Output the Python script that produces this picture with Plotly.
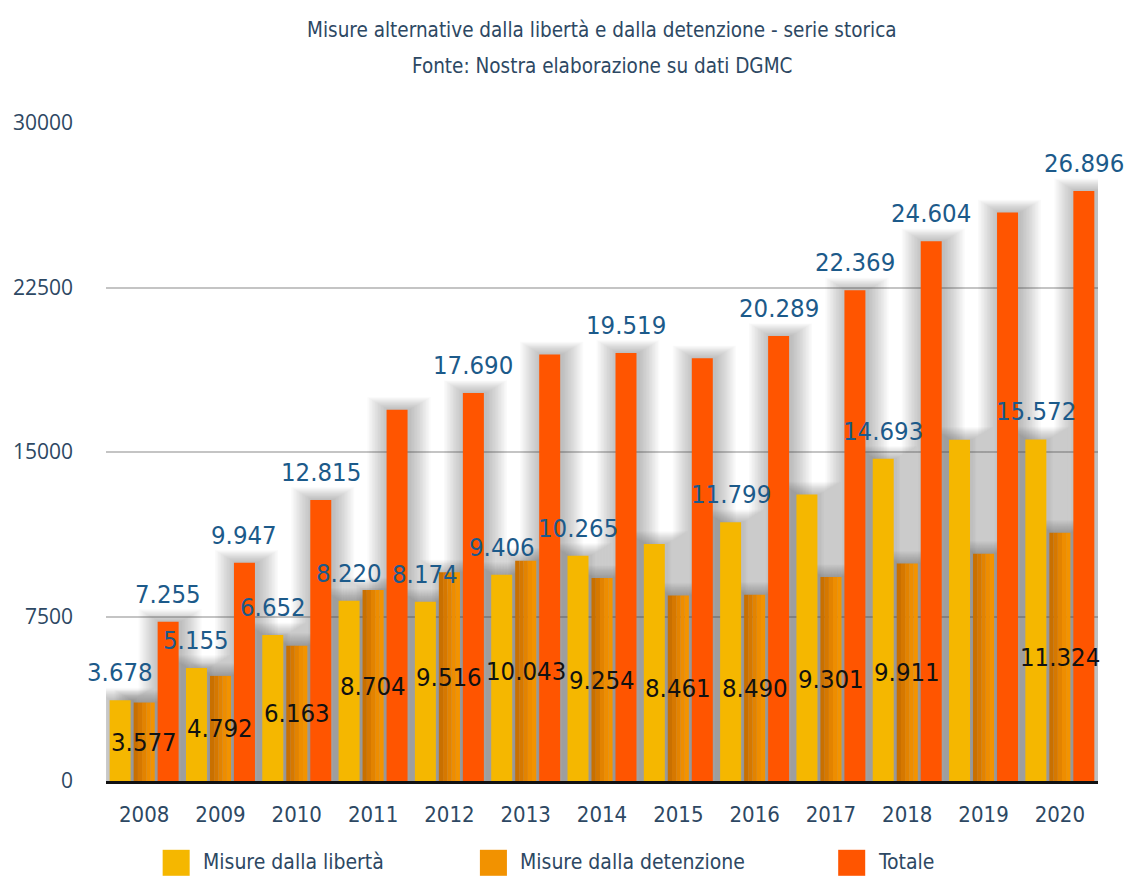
import plotly.graph_objects as go

# Serie storica 2008-2020
anni = [2008, 2009, 2010, 2011, 2012, 2013, 2014, 2015, 2016, 2017, 2018, 2019, 2020]
misure_liberta = [3678, 5155, 6652, 8220, 8174, 9406, 10265, 10810, 11799, 13068, 14693, 15560, 15572]
misure_detenzione = [3577, 4792, 6163, 8704, 9516, 10043, 9254, 8461, 8490, 9301, 9911, 10363, 11324]
totale = [7255, 9947, 12815, 16924, 17690, 19449, 19519, 19271, 20289, 22369, 24604, 25923, 26896]

# which bars carry a value label
etichetta_liberta = [1, 1, 1, 1, 1, 1, 1, 0, 1, 0, 1, 0, 1]
etichetta_detenzione = [1, 1, 1, 1, 1, 1, 1, 1, 1, 1, 1, 0, 1]
etichetta_totale = [1, 1, 1, 0, 1, 0, 1, 0, 1, 1, 1, 0, 1]

y_ticks = [0, 7500, 15000, 22500, 30000]
nomi_serie = ["Misure dalla libertà", "Misure dalla detenzione", "Totale"]

GIALLO = "#F5B700"
ROSSO = "#FF5500"
BLU = "#1C5A8A"
TESTO = "#2D4863"
NARROW = "Liberation Sans Narrow, DejaVu Sans Condensed, sans-serif"
WIDE = "Open Sans, Lato, sans-serif"

BAR_W = 0.275
OFFSETS = [-0.452, -0.1375, 0.177]   # left edge of each bar within a year slot
PX_PER_UNIT_X = 76.25                  # plot width / number of years
PX_PER_UNIT_Y = 658 / 30000


def it(v):
    return f"{v:,}".replace(",", ".")


fig = go.Figure()

serie = [misure_liberta, misure_detenzione, totale]

# soft drop shadow behind every bar
for k in range(1, 15):
    grow_x = 1.5 * k / PX_PER_UNIT_X
    grow_y = 0.9 * k / PX_PER_UNIT_Y
    for vals, off in zip(serie, OFFSETS):
        fig.add_trace(go.Bar(
            x=anni, y=[v + grow_y for v in vals],
            offset=off - grow_x + 2 / PX_PER_UNIT_X, width=BAR_W + 2 * grow_x,
            marker=dict(color="rgba(60,60,60,0.026)", line=dict(width=0)),
            showlegend=False, hoverinfo="skip",
        ))

# main bars
fig.add_trace(go.Bar(x=anni, y=misure_liberta, offset=OFFSETS[0], width=BAR_W,
                     marker=dict(color=GIALLO, line=dict(width=0)), name=nomi_serie[0], showlegend=False))

# the detention bars are shaded from a darker left edge to a brighter right edge
strisce = ["#C97000", "#D67800", "#E38300", "#EE8D00", "#F39300"]
sw = BAR_W / len(strisce)
for i, c in enumerate(strisce):
    fig.add_trace(go.Bar(x=anni, y=misure_detenzione, offset=OFFSETS[1] + i * sw, width=sw * 1.02,
                         marker=dict(color=c, line=dict(width=0)), name=nomi_serie[1], showlegend=False))

fig.add_trace(go.Bar(x=anni, y=totale, offset=OFFSETS[2], width=BAR_W,
                     marker=dict(color=ROSSO, line=dict(width=0)), name=nomi_serie[2], showlegend=False))

LBL = 25.5
annotations = []
for a, v, s in zip(anni, misure_liberta, etichetta_liberta):
    if s:
        annotations.append(dict(x=a + OFFSETS[0] + BAR_W / 2, y=v, text=it(v), showarrow=False,
                                yanchor="middle", yshift=28, font=dict(family=NARROW, size=LBL, color=BLU)))
for a, v, s in zip(anni, totale, etichetta_totale):
    if s:
        annotations.append(dict(x=a + OFFSETS[2] + BAR_W / 2, y=v, text=it(v), showarrow=False,
                                yanchor="middle", yshift=28, font=dict(family=NARROW, size=LBL, color=BLU)))
for a, v, s in zip(anni, misure_detenzione, etichetta_detenzione):
    if s:
        annotations.append(dict(x=a + OFFSETS[1] + BAR_W / 2, y=v / 2, text=it(v), showarrow=False,
                                yanchor="middle", font=dict(family=NARROW, size=LBL, color="#111111")))

# title
annotations.append(dict(xref="paper", yref="paper", x=0.5, y=(781.2 - 30) / 658, yanchor="middle",
                        text="Misure alternative dalla libertà e dalla detenzione - serie storica",
                        showarrow=False, font=dict(family=NARROW, size=20.5, color=TESTO)))
annotations.append(dict(xref="paper", yref="paper", x=0.5, y=(781.2 - 66) / 658, yanchor="middle",
                        text="Fonte: Nostra elaborazione su dati DGMC",
                        showarrow=False, font=dict(family=NARROW, size=20.5, color=TESTO)))

# legend drawn below the axis
shapes = []
leg_x = [163, 480, 838]
leg_col = [GIALLO, "#F29200", ROSSO]
for lx, col, nome in zip(leg_x, leg_col, nomi_serie):
    x0 = (lx - 106.4) / 991.2
    x1 = (lx + 27 - 106.4) / 991.2
    shapes.append(dict(type="rect", xref="paper", yref="paper", x0=x0, x1=x1,
                       y0=(781.2 - 876) / 658, y1=(781.2 - 850) / 658,
                       fillcolor=col, line=dict(width=0), layer="above"))
    annotations.append(dict(xref="paper", yref="paper", x=(lx + 38 - 106.4) / 991.2,
                            y=(781.2 - 862) / 658, xanchor="left", yanchor="middle",
                            text=nome, showarrow=False, font=dict(family=NARROW, size=21, color=TESTO)))

fig.update_layout(
    width=1126, height=876,
    margin=dict(l=106, r=28, t=123, b=95),
    paper_bgcolor="white", plot_bgcolor="white",
    barmode="overlay",
    showlegend=False,
    annotations=annotations,
    shapes=shapes,
    xaxis=dict(range=[2007.5, 2020.5], tickvals=anni, ticktext=[str(a) for a in anni],
               showgrid=False, zeroline=False, showline=True, linecolor="#111111", linewidth=3,
               ticks="", tickfont=dict(family=NARROW, size=22, color=TESTO), ticklabelstandoff=12),
    yaxis=dict(range=[0, 30000], tickvals=y_ticks, ticktext=[str(t) for t in y_ticks],
               showgrid=True, gridcolor="#C4C4C4", gridwidth=1.5, zeroline=False, showline=False,
               ticks="", tickfont=dict(family=WIDE, size=21, color=TESTO), ticklabelstandoff=32),
)

fig.write_html("out.html")
